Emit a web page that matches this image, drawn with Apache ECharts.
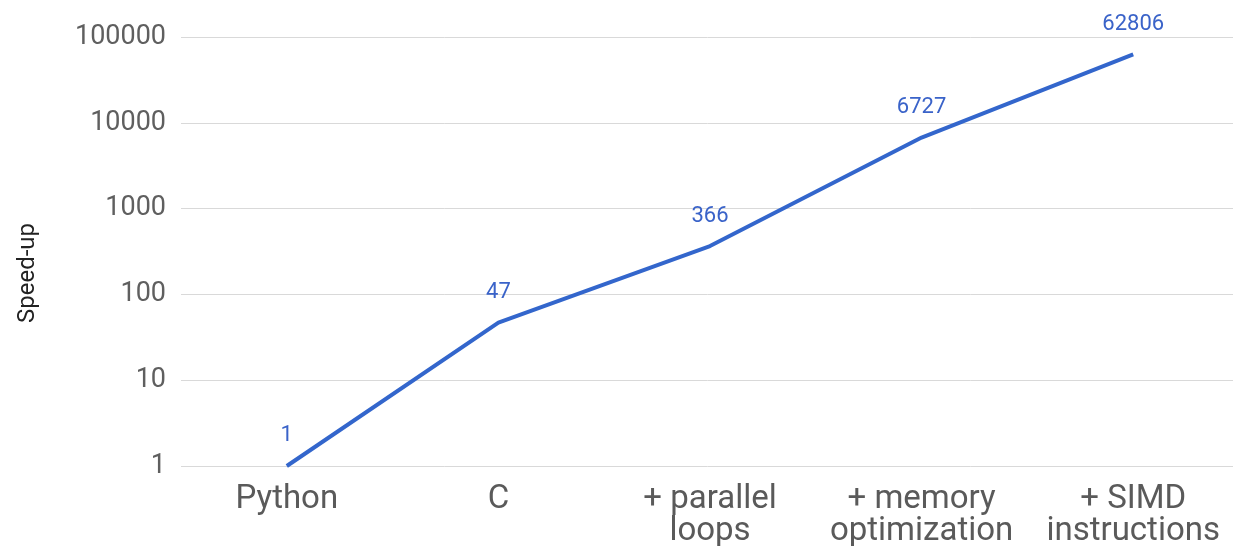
<!DOCTYPE html>
<html><head><meta charset="utf-8">
<script src="https://cdn.jsdelivr.net/npm/echarts@6/dist/echarts.min.js"></script>
<style>html,body{margin:0;padding:0;background:#fff}#c{width:1233px;height:546px}</style>
</head><body><div id="c"></div>
<script>
const categories = ['Python', 'C', '+ parallel\nloops', '+ memory\noptimization', '+ SIMD\ninstructions'];
const speedup = [1, 47, 366, 6727, 62806];
const yTicks = [1, 10, 100, 1000, 10000, 100000];
const yAxisTitle = 'Speed-up';

const chart = echarts.init(document.getElementById('c'));
chart.setOption({
  animation: false,
  backgroundColor: '#fff',
  textStyle: { fontFamily: 'Roboto' },
  grid: { left: 181, right: -6, top: 37, bottom: 80, containLabel: false, outerBoundsMode: 'none' },
  graphic: [{
    type: 'text', x: 28, y: 273, rotation: Math.PI / 2,
    style: { text: yAxisTitle, fontSize: 24, fill: '#222', fontFamily: 'Roboto', align: 'center', verticalAlign: 'middle' }
  }],
  xAxis: {
    type: 'category', data: categories, boundaryGap: true,
    axisLine: { show: false }, axisTick: { show: false },
    axisLabel: { interval: 0, fontSize: 33, lineHeight: 32, color: '#5a5a5a', margin: 18, fontFamily: 'Roboto' }
  },
  yAxis: {
    type: 'log', logBase: 10, min: yTicks[0], max: yTicks[yTicks.length - 1],
    axisLine: { show: false }, axisTick: { show: false },
    splitLine: { lineStyle: { color: '#d9d9d9', width: 1 } },
    axisLabel: { fontSize: 27, color: '#5f5f5f', margin: 15, fontFamily: 'Roboto',
      formatter: v => String(Math.round(v)) }
  },
  series: [{
    type: 'line', data: speedup,
    symbol: 'circle', symbolSize: 0.1,
    lineStyle: { color: '#3366cc', width: 4 },
    itemStyle: { color: '#3366cc' },
    label: { show: true, position: 'top', distance: 19, fontSize: 22, color: '#3a63c9', fontFamily: 'Roboto' }
  }]
});
</script></body></html>
